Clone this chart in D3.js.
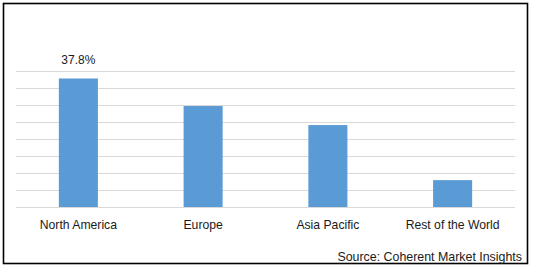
<!DOCTYPE html>
<html>
<head>
<meta charset="utf-8">
<script src="https://cdn.jsdelivr.net/npm/d3@7"></script>
<style>
  html, body { margin: 0; padding: 0; background: #fff; }
  svg { display: block; }
  text { font-family: "Liberation Sans", Arial, sans-serif; }
</style>
</head>
<body>
<svg id="chart" width="534" height="270"></svg>
<script>
const categories = ["North America", "Europe", "Asia Pacific", "Rest of the World"];
const values = [37.8, 29.7, 24.1, 7.9];
const dataLabels = ["37.8%", null, null, null];
const yTicks = [0, 5, 10, 15, 20, 25, 30, 35, 40];
const sourceText = "Source: Coherent Market Insights";

const svg = d3.select("#chart");
const W = 534, H = 270;
svg.append("rect").attr("width", W).attr("height", H).attr("fill", "#fff");

// outer border
svg.append("rect")
  .attr("x", 3.5).attr("y", 3.5)
  .attr("width", 524).attr("height", 260)
  .attr("fill", "none").attr("stroke", "#000").attr("stroke-width", 1.6);

const plot = { left: 16, right: 515, top: 71, bottom: 207 };

const x = d3.scaleBand()
  .domain(categories)
  .range([plot.left, plot.right])
  .paddingInner(0.687)
  .paddingOuter(0.3435);

const y = d3.scaleLinear()
  .domain([0, 40])
  .range([plot.bottom, plot.top]);

// gridlines (including baseline)
svg.append("g")
  .selectAll("line")
  .data(yTicks)
  .join("line")
  .attr("x1", plot.left).attr("x2", plot.right)
  .attr("y1", d => Math.round(y(d)) + 0.5)
  .attr("y2", d => Math.round(y(d)) + 0.5)
  .attr("stroke", "#d9d9d9").attr("stroke-width", 1);

// bars
svg.append("g")
  .selectAll("rect")
  .data(values)
  .join("rect")
  .attr("x", (d, i) => x(categories[i]))
  .attr("width", x.bandwidth())
  .attr("y", d => y(d))
  .attr("height", d => y(0) - y(d))
  .attr("fill", "#5b9bd5");

// data labels
svg.append("g")
  .selectAll("text")
  .data(values.map((v, i) => ({ v, i, label: dataLabels[i] })).filter(d => d.label))
  .join("text")
  .attr("x", d => x(categories[d.i]) + x.bandwidth() / 2)
  .attr("y", d => y(d.v) - 14)
  .attr("text-anchor", "middle")
  .attr("font-size", "12px")
  .attr("fill", "#1a1a1a")
  .text(d => d.label);

// category axis labels
const xAxis = d3.axisBottom(x).tickSize(0).tickPadding(13);
const gx = svg.append("g")
  .attr("transform", `translate(0,${plot.bottom})`)
  .call(xAxis);
gx.select(".domain").remove();
gx.selectAll("text")
  .attr("font-size", "12.2px")
  .attr("font-family", "'Liberation Sans', Arial, sans-serif")
  .attr("fill", "#1a1a1a");

// source
svg.append("text")
  .attr("x", 522).attr("y", 261)
  .attr("text-anchor", "end")
  .attr("font-size", "12.4px")
  .attr("fill", "#1a1a1a")
  .text(sourceText);
</script>
</body>
</html>
